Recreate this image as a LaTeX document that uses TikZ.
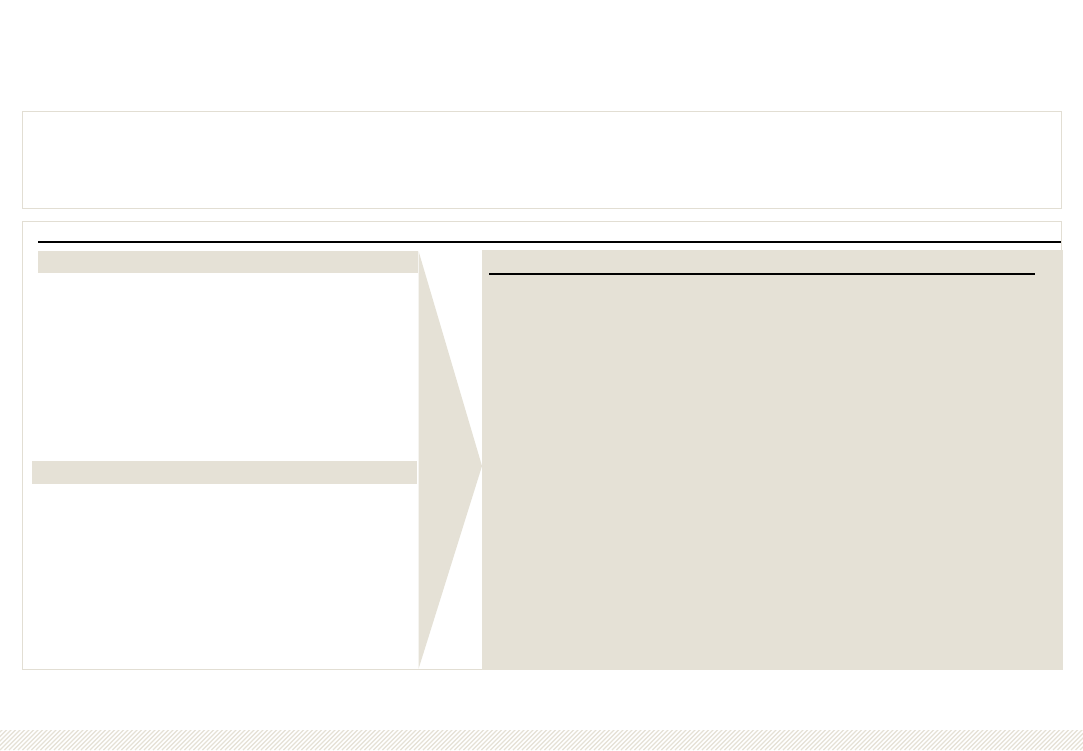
\documentclass[tikz,border=0pt]{standalone}
\usetikzlibrary{calc}
\definecolor{beige}{HTML}{E5E1D6}
\definecolor{frame}{HTML}{E2DED3}
\begin{document}
\begin{tikzpicture}[x=1pt,y=-1pt,
  panelbox/.style={draw=frame,line width=1pt,fill=white},
  band/.style={fill=beige,draw=none},
  rule/.style={draw=black,line width=2pt}]
\useasboundingbox[fill=white] (0,0) rectangle (1083,750);
% top box
\draw[panelbox] (22.5,111.5) rectangle (1061.5,208.5);
% main box
\draw[panelbox] (22.5,221.5) rectangle (1061.5,669.5);
% top rule
\draw[rule] (38,242) -- (1061,242);
% left header bars
\fill[band] (38,251) rectangle (418,273);
\fill[band] (32,461) rectangle (416.5,484);
% chevron
\fill[band] (418.5,251) -- (482,466) -- (418.5,669) -- cycle;
% right panel
\fill[band] (482,250) rectangle (1062.5,670);
\draw[black,line width=1.6pt] (489,273.7) -- (1035,273.7);
% bottom hatched strip
\begin{scope}
\clip (0,730) rectangle (1083,750);
\foreach \i in {-30,...,260}{
  \draw[beige,line width=1.3pt] ({\i*4.5},750) -- ({\i*4.5+22},728);
}
\end{scope}
\end{tikzpicture}
\end{document}
